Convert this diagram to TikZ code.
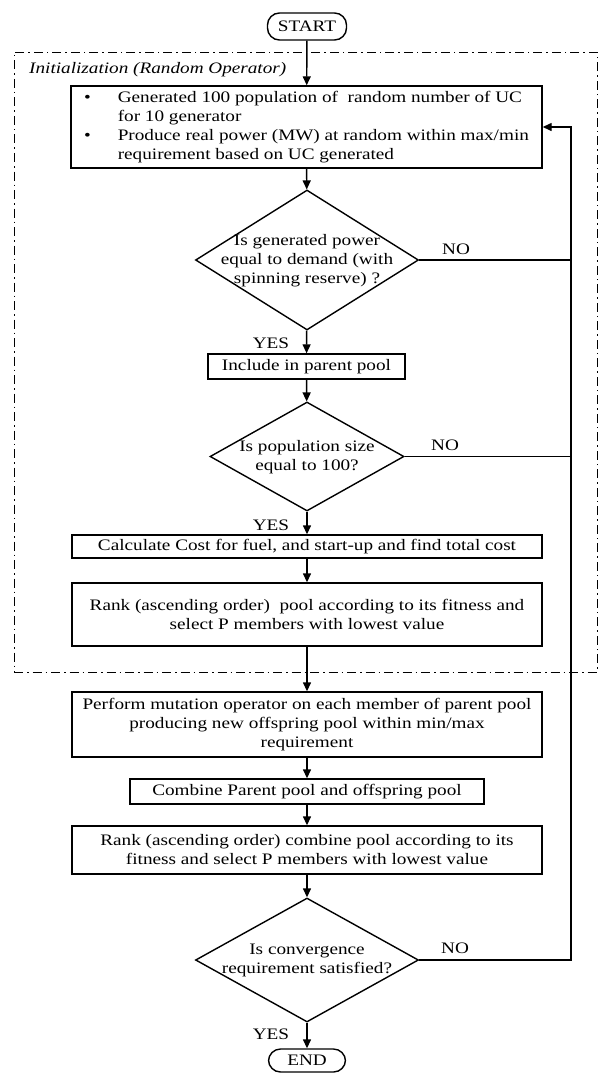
\documentclass[tikz,border=0pt]{standalone}
\usepackage{fontspec}
\setmainfont{Liberation Serif}[FakeStretch=1.2]
\usepackage{tikz}
\usetikzlibrary{shapes.geometric, arrows.meta, positioning, calc}
\newcommand{\flowfont}{\fontsize{16}{19}\selectfont}
\tikzset{
  procbox/.style={rectangle, draw=black, line width=1.4pt,
    align=center, inner sep=0pt, font=\flowfont},
  decision/.style={diamond, draw=black, line width=1.4pt, inner sep=0pt},
  dectext/.style={align=center, inner sep=0pt, font=\flowfont},
  terminal/.style={rectangle, draw=black, rounded corners=12pt,
    minimum width=79pt, minimum height=27pt, inner sep=0pt,
    line width=1.4pt, font=\flowfont},
  flowlabel/.style={inner sep=0pt, font=\flowfont},
  initframe/.style={rectangle, draw=black, line width=0.9pt,
    dash pattern=on 9pt off 4pt on 1.5pt off 4pt},
  arrow/.style={-{Triangle[length=9pt,width=8pt]}, line width=1.4pt},
  line/.style={line width=1.4pt}
}

\begin{document}
\begin{tikzpicture}[x=1pt, y=-1pt]
  \useasboundingbox (0,0) rectangle (599,1073);
  \node[initframe, minimum width=583pt, minimum height=620pt] (initbox) at (305.5,362) {};
  \node[flowlabel, anchor=west, font=\flowfont\itshape] (inittitle) at (29,70) {Initialization (Random Operator)};

  \node[terminal] (start) at (307,26.5) {START};
  \node[procbox, minimum width=471pt, minimum height=82pt] (gen) at (306.5,127)
    {\begin{tabular}{@{}l@{\hspace{27pt}}l@{}}
      \textbullet & Generated 100 population of \ random number of UC\\
                  & for 10 generator\\
      \textbullet & Produce real power (MW) at random within max/min\\
                  & requirement based on UC generated
     \end{tabular}};
  \node[decision, minimum width=223pt, minimum height=140pt] (dec1) at (307,260) {};
  \node[dectext] (dec1txt) at (307,261) {Is generated power\\equal to demand (with\\spinning reserve) ?};
  \node[procbox, minimum width=197pt, minimum height=25pt] (pool) at (306.5,366.5) {Include in parent pool};
  \node[decision, minimum width=194pt, minimum height=109pt] (dec2) at (307,456.5) {};
  \node[dectext] (dec2txt) at (307,457) {Is population size\\equal to 100?};
  \node[procbox, minimum width=470pt, minimum height=23pt] (cost) at (307,546.5) {Calculate Cost for fuel, and start-up and find total cost};
  \node[procbox, minimum width=470pt, minimum height=63pt] (rank) at (307,614.5) {Rank (ascending order) \ pool according to its fitness and\\select P members with lowest value};

  \node[procbox, minimum width=470pt, minimum height=65pt] (mutate) at (307,724.5) {Perform mutation operator on each member of parent pool\\producing new offspring pool within min/max\\requirement};
  \node[procbox, minimum width=354pt, minimum height=25pt] (combine) at (307,791.5) {Combine Parent pool and offspring pool};
  \node[procbox, minimum width=470pt, minimum height=48pt] (rankb) at (307,850) {Rank (ascending order) combine pool according to its\\fitness and select P members with lowest value};
  \node[decision, minimum width=223pt, minimum height=124pt] (dec3) at (307,960) {};
  \node[dectext] (dec3txt) at (307,960) {Is convergence\\requirement satisfied?};
  \node[terminal, minimum width=77pt, minimum height=23pt] (stop) at (307,1060.5) {END};

  \node[flowlabel] (yes1) at (271,343) {YES};
  \node[flowlabel] (no1) at (456,249) {NO};
  \node[flowlabel] (yes2) at (271,525) {YES};
  \node[flowlabel] (no2) at (445,445) {NO};
  \node[flowlabel] (yes3) at (271,1034) {YES};
  \node[flowlabel] (no3) at (455,948) {NO};

  \coordinate (loop) at (571,127);

  % Paths
  \draw[arrow] (start) -- (gen);
  \draw[arrow] (gen) -- (dec1);
  \draw[arrow] (dec1) -- (pool);
  \draw[arrow] (pool) -- (dec2);
  \draw[arrow] (dec2) -- (cost);
  \draw[arrow] (cost) -- (rank);
  \draw[arrow] (rank) -- (mutate);
  \draw[arrow] (mutate) -- (combine);
  \draw[arrow] (combine) -- (rankb);
  \draw[arrow] (rankb) -- (dec3);
  \draw[arrow] (dec3) -- (stop);

  \draw[line] (dec1.east) -- (dec1.east -| loop);
  \draw[line] (dec2.east) -- (dec2.east -| loop);
  \draw[arrow] (dec3.east) -- (dec3.east -| loop) -- (loop) -- (gen.east |- loop);
\end{tikzpicture}
\end{document}
